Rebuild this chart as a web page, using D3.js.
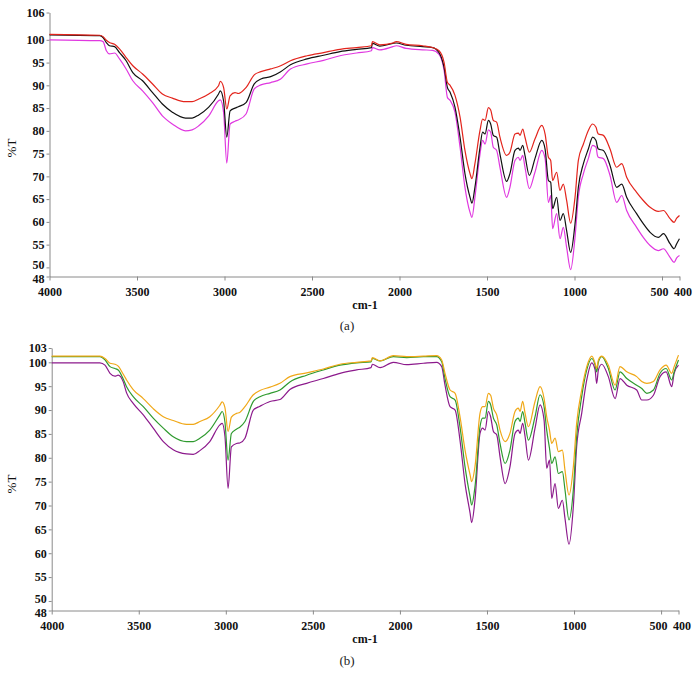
<!DOCTYPE html>
<html>
<head>
<meta charset="utf-8">
<script src="https://cdn.jsdelivr.net/npm/d3@7"></script>
<style>
  body { margin: 0; background: #fff; }
  svg { display: block; }
</style>
</head>
<body>
<script>
// shared tick labels
const xTicks = [4000, 3500, 3000, 2500, 2000, 1500, 1000, 500, 400];
const yTicksA = [48, 50, 55, 60, 65, 70, 75, 80, 85, 90, 95, 100, 106];
const yTicksB = [48, 50, 55, 60, 65, 70, 75, 80, 85, 90, 95, 100, 103];

// (a) wavenumbers and %T of the three spectra
const wnA = [4000, 3713, 3694, 3675, 3657, 3628, 3600, 3562, 3524, 3468, 3411, 3355, 3298, 3223, 3185, 3147, 3090, 3034, 3024, 3005, 2987, 2968, 2940, 2921,
  2877, 2830, 2792, 2736, 2679, 2623, 2528, 2434, 2340, 2245, 2160, 2155, 2113, 2038, 2019, 1962, 1868, 1811, 1774, 1745, 1726,
  1711, 1683, 1654, 1626, 1597, 1586, 1569, 1540, 1525, 1511, 1492, 1479, 1464, 1445, 1426, 1388, 1369, 1340, 1321, 1311, 1296,
  1283, 1258, 1226, 1187, 1168, 1149, 1136, 1125, 1102, 1083, 1064, 1045, 1022, 997, 978, 949, 921, 896, 877, 869, 864, 835,
  797, 759, 730, 702, 645, 607, 568, 521, 492, 454, 431, 416, 400];
const redA = [101.2, 101.0, 100.7, 99.9, 99.4, 99.0, 98.0, 96.1, 94.3, 92.5, 90.3, 88.1, 87.2, 86.4, 86.4, 87.0, 88.1, 89.9, 90.9, 89.5, 84.8, 87.7, 88.4, 88.2,
  89.5, 92.3, 93.0, 93.6, 94.3, 95.4, 96.5, 97.2, 97.9, 98.3, 98.7, 99.6, 98.9, 99.3, 99.6, 99.0, 98.7, 98.3, 97.6, 95.0, 90.6,
  90.0, 87.8, 83.0, 75.7, 70.6, 69.5, 72.8, 80.1, 82.6, 82.3, 85.1, 84.6, 82.3, 81.9, 78.6, 74.6, 75.3, 79.3, 79.5, 79.0, 80.4,
  78.6, 75.3, 78.2, 81.2, 79.3, 74.2, 73.5, 69.1, 70.9, 66.9, 68.3, 64.7, 59.7, 65.4, 73.5, 77.1, 80.1, 81.5, 80.8, 79.7, 79.3, 79.0,
  76.0, 72.0, 72.8, 69.8, 66.5, 64.7, 63.2, 62.3, 62.5, 60.7, 59.9, 60.8, 61.4];
const blackA = [101.1, 100.9, 100.5, 99.4, 98.7, 98.5, 97.2, 95.4, 92.8, 91.0, 88.4, 85.9, 84.1, 82.8, 82.8, 83.5, 85.2, 88.1, 88.8, 86.5, 78.6, 84.4, 85.0, 85.3,
  86.2, 90.3, 91.4, 91.9, 93.0, 94.5, 95.8, 96.6, 97.4, 97.9, 98.3, 99.2, 98.6, 99.2, 99.3, 98.8, 98.5, 98.3, 97.2, 93.9, 89.5,
  88.5, 85.2, 78.6, 70.6, 65.4, 64.1, 67.6, 76.4, 79.7, 79.3, 82.3, 81.5, 79.0, 78.6, 74.9, 68.9, 70.6, 75.7, 76.2, 75.7, 76.8,
  74.6, 70.2, 73.9, 77.9, 76.0, 69.1, 68.7, 62.9, 65.4, 60.3, 61.8, 58.1, 53.3, 59.6, 67.6, 72.8, 76.0, 78.6, 77.9, 76.5, 76.0, 75.7,
  72.4, 67.6, 68.3, 65.4, 61.8, 59.6, 57.7, 56.6, 57.4, 55.2, 54.1, 55.2, 56.3];
const magentaA = [100.0, 99.8, 99.6, 97.6, 96.9, 97.1, 95.8, 93.6, 91.0, 88.8, 86.2, 83.3, 81.5, 80.0, 80.2, 81.1, 83.3, 86.6, 86.8, 84.0, 72.9, 81.5, 82.1, 82.4,
  83.7, 89.2, 90.1, 90.6, 91.4, 93.6, 94.7, 95.5, 96.5, 97.1, 97.6, 98.3, 97.8, 98.5, 98.7, 98.1, 97.8, 97.7, 96.8, 93.2, 87.3,
  86.7, 84.1, 76.4, 67.6, 62.1, 61.0, 65.4, 74.9, 77.9, 77.1, 80.2, 79.7, 76.4, 75.7, 72.0, 65.4, 67.6, 73.5, 74.2, 73.5, 74.6,
  72.0, 67.3, 70.9, 75.7, 73.9, 64.3, 65.8, 58.5, 61.8, 56.3, 58.8, 54.4, 49.5, 56.6, 65.4, 70.6, 73.9, 76.8, 76.4, 74.6, 74.2, 73.9,
  70.2, 64.3, 65.8, 62.5, 58.8, 56.6, 54.8, 53.7, 54.1, 52.2, 51.1, 52.1, 52.6];

// (b) wavenumbers and %T of the three spectra
const wnB = [4000, 3723, 3694, 3665, 3637, 3618, 3589, 3570, 3532, 3474, 3417, 3359, 3302, 3226, 3187, 3149, 3092, 3034, 3021, 3005, 2987, 2968, 2939, 2920,
  2890, 2842, 2804, 2746, 2689, 2632, 2536, 2440, 2344, 2249, 2166, 2158, 2114, 2038, 1961, 1865, 1789, 1760, 1741,
  1712, 1683, 1655, 1626, 1597, 1588, 1569, 1540, 1525, 1511, 1492, 1479, 1463, 1444, 1425, 1396, 1368, 1339, 1320, 1310, 1295,
  1281, 1262, 1224, 1195, 1172, 1157, 1141, 1128, 1109, 1090, 1067, 1052, 1029, 1004, 985, 956, 927, 898, 879, 870, 860, 841,
  803, 764, 736, 697, 640, 611, 582, 544, 506, 471, 439, 425, 400];
const orangeB = [101.3, 101.3, 100.8, 99.8, 99.6, 99.2, 97.5, 96.3, 94.3, 92.4, 90.3, 88.6, 87.8, 87.0, 87.0, 87.6, 88.6, 91.0, 91.7, 90.5, 85.5, 88.5, 89.3, 89.5,
  90.7, 93.2, 94.1, 94.8, 95.6, 97.0, 97.8, 98.6, 99.6, 100.0, 100.3, 101.0, 100.3, 101.4, 101.2, 101.3, 101.4, 100.5, 97.7,
  94.2, 93.5, 88.6, 81.6, 76.4, 75.0, 78.1, 89.3, 90.7, 90.7, 93.5, 93.1, 90.4, 89.0, 85.8, 83.4, 85.1, 89.7, 90.4, 89.7, 91.8,
  89.3, 86.5, 91.8, 94.9, 92.4, 88.6, 85.8, 83.0, 84.1, 81.3, 81.6, 77.4, 72.2, 78.1, 87.2, 94.2, 99.1, 101.3, 99.8, 98.7, 100.5, 101.3,
  99.4, 95.2, 99.1, 98.0, 97.0, 96.0, 95.6, 96.0, 98.4, 99.4, 97.7, 99.1, 101.5];
const greenB = [101.2, 101.2, 100.5, 99.1, 98.7, 98.4, 96.5, 94.9, 92.8, 90.7, 88.3, 86.2, 84.4, 83.4, 83.4, 84.1, 85.8, 89.0, 89.7, 87.5, 79.5, 85.1, 86.0, 86.4,
  87.6, 91.8, 92.8, 93.5, 94.2, 95.9, 97.3, 98.4, 99.4, 99.9, 100.1, 100.8, 100.3, 101.2, 101.0, 101.2, 101.2, 100.1, 96.6,
  92.8, 92.1, 86.5, 78.1, 71.8, 70.1, 73.9, 86.5, 88.3, 88.3, 91.8, 91.1, 88.3, 86.9, 83.0, 78.8, 81.6, 87.6, 88.3, 87.6, 89.7,
  87.2, 83.7, 88.6, 93.2, 90.7, 85.8, 82.0, 78.8, 80.2, 76.7, 77.1, 73.3, 67.0, 73.3, 84.4, 92.8, 98.4, 100.8, 99.4, 98.0, 100.1, 101.2,
  98.7, 94.2, 98.0, 96.6, 95.2, 94.5, 93.5, 94.2, 97.7, 98.7, 96.3, 98.0, 100.5];
const purpleB = [99.9, 99.9, 99.4, 97.7, 97.1, 97.3, 95.9, 93.6, 91.4, 89.0, 86.2, 83.4, 81.7, 80.8, 80.7, 81.5, 83.4, 86.9, 87.2, 84.5, 73.6, 82.3, 83.0, 83.1,
  84.1, 90.0, 90.8, 91.8, 92.2, 94.3, 95.6, 96.6, 97.7, 98.4, 98.9, 99.6, 98.9, 100.0, 99.5, 99.8, 100.0, 99.1, 95.2,
  90.7, 90.0, 83.7, 74.6, 68.4, 66.4, 71.1, 85.1, 86.2, 85.8, 89.7, 88.6, 85.5, 84.8, 80.2, 74.6, 78.1, 85.1, 85.8, 85.1, 87.2,
  84.4, 79.5, 86.2, 91.1, 87.9, 77.8, 79.5, 71.5, 74.6, 69.4, 71.1, 67.3, 61.9, 69.8, 82.3, 89.3, 96.3, 99.9, 98.4, 95.6, 98.4, 99.6,
  97.0, 92.4, 96.6, 95.2, 94.2, 92.1, 92.1, 93.1, 97.0, 98.0, 94.9, 97.7, 99.4];

const svg = d3.select("body").append("svg")
  .attr("width", 699)
  .attr("height", 685);

const font = "'Liberation Serif', 'DejaVu Serif', serif";

function drawPanel(cfg) {
  const x = d3.scaleLinear().domain([4000, 400]).range([cfg.left, cfg.right]);
  const y = d3.scaleLinear().domain(cfg.yDomain).range([cfg.bottom, cfg.top]);

  const g = svg.append("g");

  // y axis
  const ya = g.append("g")
    .attr("transform", `translate(${cfg.left},0)`)
    .call(d3.axisLeft(y).tickValues(cfg.yTicks).tickSize(3).tickSizeOuter(0).tickFormat(d3.format("d")));
  // x axis
  const xa = g.append("g")
    .attr("transform", `translate(0,${cfg.bottom})`)
    .call(d3.axisBottom(x).tickValues(xTicks).tickSize(4).tickSizeOuter(0).tickFormat(d3.format("d")));

  [ya, xa].forEach(a => {
    a.select(".domain").attr("stroke", "#8a8a8a");
    a.selectAll(".tick line").attr("stroke", "#8a8a8a");
    a.selectAll(".tick text")
      .attr("fill", "#111")
      .style("font-family", font)
      .style("font-weight", "bold")
      .style("font-size", "12px");
  });
  // nudge the crowded labels apart (48/50 and 500/400)
  ya.selectAll(".tick text")
    .attr("x", -5)
    .attr("dy", d => d === 48 ? "0.5em" : d === 50 ? "0.12em" : "0.32em");
  xa.selectAll(".tick text")
    .attr("y", 11)
    .attr("dx", d => d === 500 ? -3 : d === 400 ? 3 : 0);

  // spectra
  const line = d3.line()
    .curve(d3.curveMonotoneX)
    .x(d => x(d[0]))
    .y(d => y(d[1]));
  cfg.series.forEach(s => {
    g.append("path")
      .datum(cfg.wn.map((w, i) => [w, s.values[i]]))
      .attr("fill", "none")
      .attr("stroke", s.color)
      .attr("stroke-width", 1.2)
      .attr("stroke-linejoin", "round")
      .attr("d", line);
  });

  // axis titles
  g.append("text")
    .attr("transform", `translate(16,${cfg.yLabelY}) rotate(-90)`)
    .attr("text-anchor", "middle")
    .style("font-family", font)
    .style("font-size", "13px")
    .attr("fill", "#111")
    .text("%T");

  g.append("text")
    .attr("x", 365)
    .attr("y", cfg.bottom + 32)
    .attr("text-anchor", "middle")
    .style("font-family", font)
    .style("font-weight", "bold")
    .style("font-size", "12px")
    .attr("fill", "#111")
    .text("cm-1");

  g.append("text")
    .attr("x", 347)
    .attr("y", cfg.bottom + cfg.capOffset)
    .attr("text-anchor", "middle")
    .style("font-family", font)
    .style("font-size", "13px")
    .attr("fill", "#222")
    .text(cfg.caption);
}

drawPanel({
  left: 49.5, right: 679.5, top: 12.5, bottom: 276.5,
  yDomain: [48, 106], yTicks: yTicksA, yLabelY: 148,
  wn: wnA, caption: "(a)", capOffset: 53,
  series: [
    { values: magentaA, color: "#e038e0" },
    { values: blackA, color: "#111111" },
    { values: redA, color: "#e3241c" }
  ]
});

drawPanel({
  left: 51.7, right: 678.5, top: 348, bottom: 610.5,
  yDomain: [48, 103], yTicks: yTicksB, yLabelY: 484,
  wn: wnB, caption: "(b)", capOffset: 54,
  series: [
    { values: purpleB, color: "#8c1a8c" },
    { values: greenB, color: "#2f9a2f" },
    { values: orangeB, color: "#f0a818" }
  ]
});
</script>
</body>
</html>
